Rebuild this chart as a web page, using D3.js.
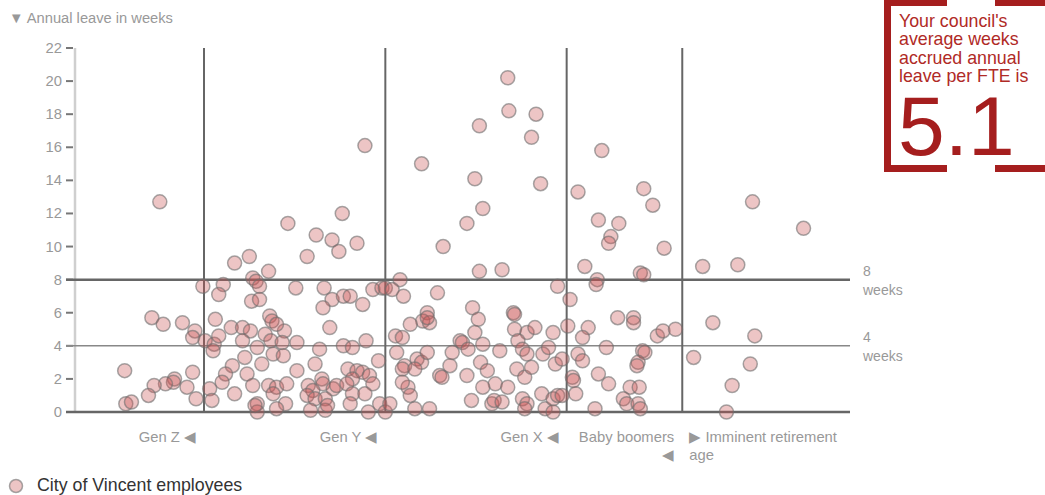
<!DOCTYPE html>
<html><head><meta charset="utf-8">
<script src="https://cdn.jsdelivr.net/npm/d3@7"></script>
<style>
body{margin:0;background:#fff;font-family:"Liberation Sans",Arial,sans-serif;}
svg{display:block;}
</style></head>
<body>
<svg id="chart" width="1045" height="495"></svg>
<script>
// Employee ages (years) and accrued annual leave (weeks)
const ages = [
 23.1,20.0,20.1,20.6,22.4,23.4,25.1,26.2,26.0,26.0,24.4,24.3,23.6,22.6,22.1,25.5,26.3,26.9,27.1,
 28.7,28.3,31.3,31.6,31.9,31.2,31.9,28.0,27.9,27.8,28.3,29.4,30.4,31.1,30.4,31.7,30.6,29.5,28.9,28.6,
 30.8,31.3,29.7,27.5,27.7,31.7,31.7,31.0,29.7,32.7,34.4,36.1,36.9,38.3,38.9,39.2,40.5,41.2,35.1,37.6,
 38.3,37.5,39.3,39.9,41.0,41.9,42.7,32.8,33.0,34.1,33.4,32.4,38.1,32.9,33.9,35.2,37.2,39.3,40.1,41.3,
 33.1,34.0,32.1,36.8,35.2,32.7,33.4,34.3,33.1,34.2,33.4,31.5,36.2,37.4,37.5,36.6,38.4,38.7,36.1,36.8,
 37.7,36.4,37.7,37.9,39.7,40.5,41.0,41.6,41.9,40.1,39.6,40.1,41.2,39.9,41.5,42.5,42.4,
 43.0,44.3,43.0,43.6,44.6,47.6,58.2,50.7,51.2,50.9,54.3,54.4,46.7,46.3,46.9,46.7,45.2,43.9,44.5,49.6,
 49.8,50.3,51.6,53.1,54.4,55.5,56.2,57.8,54.7,55.1,55.5,56.9,57.4,58.0,58.6,44.0,45.8,46.2,46.7,44.7,
 44.5,45.6,47.8,48.0,48.7,48.9,50.2,51.4,52.0,52.7,53.8,54.6,55.3,55.9,51.6,50.6,52.4,52.6,53.3,55.1,
 55.5,55.3,56.8,57.1,57.8,57.8,58.2,45.0,44.5,45.2,43.4,45.6,46.9,46.2,48.1,50.2,51.6,50.9,51.3,53.8,
 53.9,56.3,55.9,56.7,53.3,51.3,58.6,
 60.0,62.1,65.8,66.6,61.8,63.6,62.9,62.7,67.6,60.6,65.5,65.8,61.7,61.6,59.3,59.1,63.5,64.9,64.9,60.9,
 60.4,67.0,67.5,68.6,62.5,60.0,60.4,65.7,65.9,65.3,65.2,59.5,59.6,61.8,62.7,59.8,61.5,64.6,65.4,64.0,
 64.3,65.3,65.5,
 71.0,74.1,75.4,79.9,71.9,75.6,70.2,75.2,73.6,73.1
];
const weeks = [
 12.7,2.5,0.5,0.6,5.7,5.3,5.4,4.9,4.5,2.4,2.0,1.8,1.7,1.6,1.0,1.5,0.8,7.6,4.3,
 7.7,7.1,8.1,7.9,7.6,6.7,6.8,5.6,4.1,3.7,4.6,5.1,5.1,4.9,4.3,3.9,3.3,2.8,2.3,1.8,
 2.3,1.6,1.1,1.4,0.7,0.5,0.0,9.4,9.0,8.5,11.4,9.4,10.7,10.4,9.7,12.0,10.2,16.1,7.5,7.5,
 6.8,6.3,7.0,7.0,6.5,7.4,7.5,5.8,5.5,4.9,5.3,4.7,5.1,4.3,4.2,4.2,3.8,4.0,3.9,4.3,
 3.5,3.4,2.9,2.9,2.5,1.6,1.5,1.7,1.1,0.5,0.2,0.4,1.6,2.0,1.7,1.3,1.4,1.6,1.0,0.8,
 0.8,0.1,0.1,0.4,2.6,2.5,2.4,2.2,1.7,2.0,1.7,1.1,1.1,0.5,0.0,0.5,3.1,
 0.0,8.0,7.5,7.4,7.0,7.2,7.6,6.3,5.6,4.8,6.0,5.9,6.0,5.5,5.4,5.7,5.3,4.6,4.5,4.3,
 4.2,3.8,4.1,3.7,5.0,4.8,5.1,4.8,4.3,3.8,3.5,3.5,3.9,2.9,3.2,3.6,3.2,3.0,3.6,2.8,
 2.6,2.6,2.2,2.1,2.8,3.6,2.2,3.0,2.5,1.7,1.5,2.6,2.1,2.7,1.5,0.7,0.5,0.7,0.6,0.8,
 0.5,0.2,1.1,0.2,0.8,0.0,1.0,1.5,1.8,1.0,0.5,0.2,0.2,15.0,10.0,11.4,12.3,14.1,17.3,20.2,
 18.2,18.0,16.6,13.8,8.6,8.5,1.0,
 13.3,15.8,13.5,12.5,11.6,11.4,10.6,10.2,9.9,8.8,8.4,8.3,8.0,7.7,6.8,5.2,5.7,5.7,5.4,5.1,
 4.5,4.6,4.9,5.0,3.9,3.5,3.1,3.7,3.6,3.0,2.8,2.1,1.9,2.3,1.7,1.1,0.2,1.5,1.5,0.8,
 0.5,0.5,0.2,
 8.8,8.9,12.7,11.1,5.4,4.6,3.3,2.9,1.6,0.0
];
const yTicks = [0,2,4,6,8,10,12,14,16,18,20,22];
const genBoundaries = [27, 43, 59, 69.2];
const genLabels = ["Gen Z \u25C0", "Gen Y \u25C0", "Gen X \u25C0"];
const refLines = [4, 8];
const boxLines = ["Your council's", "average weeks", "accrued annual", "leave per FTE is"];
const councilAverage = "5.1";

const svg = d3.select("#chart");
const x = d3.scaleLinear().domain([15, 84]).range([68, 850]);
const y = d3.scaleLinear().domain([0, 22]).range([412, 48]);
const grey = "#999";

// title
svg.append("text").attr("x", 9).attr("y", 23).attr("fill", grey)
  .style("font-size", "14.7px").text("\u25BC Annual leave in weeks");

// y axis light line
svg.append("line").attr("x1", 75).attr("x2", 75).attr("y1", y(22)).attr("y2", y(0))
  .attr("stroke", "#cfcfcf").attr("stroke-width", 2.5);

// ticks
const tk = svg.append("g");
tk.selectAll("line").data(yTicks).join("line")
  .attr("x1", 66).attr("x2", 73).attr("y1", d => y(d)).attr("y2", d => y(d))
  .attr("stroke", "#777").attr("stroke-width", 2);
tk.selectAll("text").data(yTicks).join("text")
  .attr("x", 62).attr("y", d => y(d) + 5).attr("text-anchor", "end")
  .attr("fill", grey).style("font-size", "14.8px").text(d => d);

// horizontal lines
svg.append("line").attr("x1", 66).attr("x2", 850).attr("y1", y(0)).attr("y2", y(0))
  .attr("stroke", "#666").attr("stroke-width", 2.5);
svg.append("line").attr("x1", 66).attr("x2", 850).attr("y1", y(8)).attr("y2", y(8))
  .attr("stroke", "#666").attr("stroke-width", 2.5);
svg.append("line").attr("x1", 66).attr("x2", 850).attr("y1", y(4)).attr("y2", y(4))
  .attr("stroke", "#888").attr("stroke-width", 1.5);

// vertical generation lines
svg.selectAll(".vb").data(genBoundaries).join("line")
  .attr("x1", d => x(d)).attr("x2", d => x(d)).attr("y1", y(22)).attr("y2", y(0))
  .attr("stroke", "#666").attr("stroke-width", 2);

// reference labels
refLines.forEach(v => {
  svg.append("text").attr("x", 863).attr("y", y(v) - 4).attr("fill", grey)
    .style("font-size", "14px").text(v);
  svg.append("text").attr("x", 863).attr("y", y(v) + 15).attr("fill", grey)
    .style("font-size", "14px").text("weeks");
});

// dots
const pts = ages.map((a, i) => ({a, w: weeks[i]}));
svg.append("g").selectAll("circle").data(pts).join("circle")
  .attr("cx", d => x(d.a)).attr("cy", d => y(d.w)).attr("r", 7)
  .attr("fill", "rgba(200,80,80,0.33)")
  .attr("stroke", "rgba(110,110,110,0.6)").attr("stroke-width", 1.5);

// bottom labels
const fs = "14.8px";
genLabels.forEach((t, i) => {
  svg.append("text").attr("x", x(genBoundaries[i]) - 8).attr("y", 442)
    .attr("text-anchor", "end").attr("fill", grey).style("font-size", fs).text(t);
});
svg.append("text").attr("x", x(genBoundaries[3]) - 8).attr("y", 442)
  .attr("text-anchor", "end").attr("fill", grey).style("font-size", fs).text("Baby boomers");
svg.append("text").attr("x", x(genBoundaries[3]) - 8).attr("y", 460)
  .attr("text-anchor", "end").attr("fill", grey).style("font-size", fs).text("\u25C0");
svg.append("text").attr("x", x(genBoundaries[3]) + 7).attr("y", 442)
  .attr("fill", grey).style("font-size", fs).text("\u25B6 Imminent retirement");
svg.append("text").attr("x", x(genBoundaries[3]) + 7).attr("y", 460)
  .attr("fill", grey).style("font-size", fs).text("age");

// legend
svg.append("circle").attr("cx", 16).attr("cy", 486).attr("r", 6.5)
  .attr("fill", "rgba(200,80,80,0.33)").attr("stroke", "rgba(110,110,110,0.6)").attr("stroke-width", 1.5);
svg.append("text").attr("x", 37).attr("y", 491).attr("fill", "#333")
  .style("font-size", "17.8px").text("City of Vincent employees");

// council box
const red = "#a51e1e";
const bx = svg.append("g");
bx.append("rect").attr("x", 884).attr("y", 0).attr("width", 7).attr("height", 172).attr("fill", red);
bx.append("rect").attr("x", 884).attr("y", 0).attr("width", 63).attr("height", 6).attr("fill", red);
bx.append("rect").attr("x", 995).attr("y", 0).attr("width", 50).attr("height", 6).attr("fill", red);
bx.append("rect").attr("x", 884).attr("y", 165).attr("width", 63).attr("height", 7).attr("fill", red);
bx.append("rect").attr("x", 995).attr("y", 165).attr("width", 50).attr("height", 7).attr("fill", red);
bx.selectAll("text.l").data(boxLines).join("text")
  .attr("x", 899).attr("y", (d, i) => 27 + i * 18.3).attr("fill", "#b02a26")
  .style("font-size", "17.8px").text(d => d);
bx.append("text").attr("x", 898).attr("y", 155).attr("fill", "#a51e1e")
  .style("font-size", "84px").text(councilAverage);
</script>
</body></html>
